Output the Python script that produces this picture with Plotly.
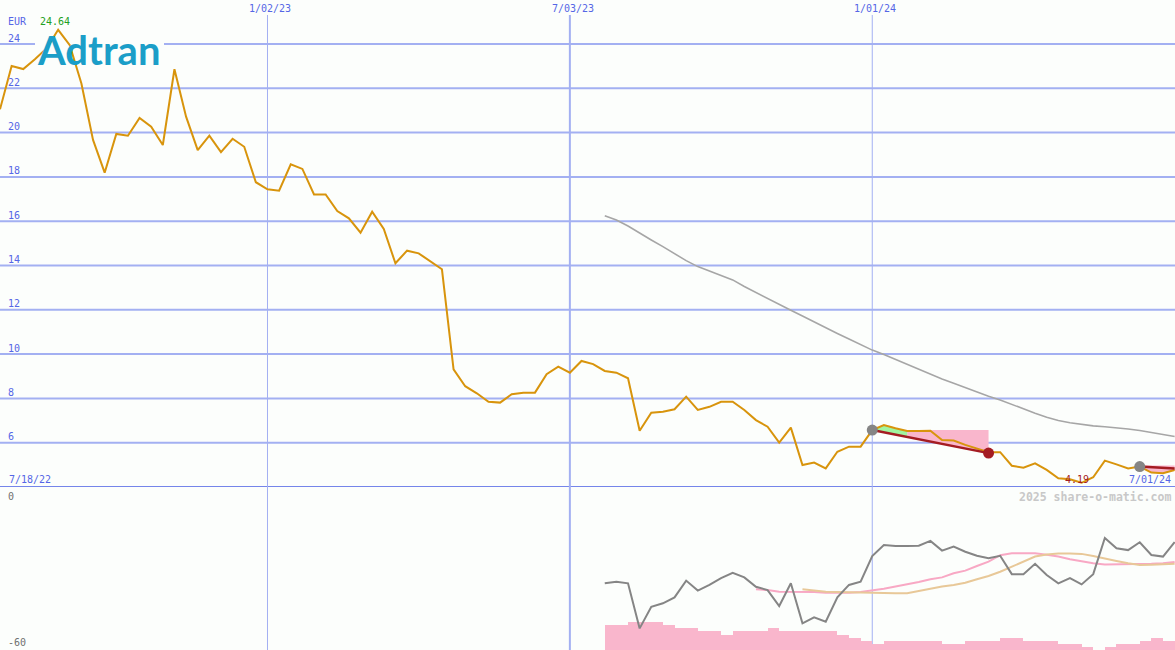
import pandas as pd
import plotly.graph_objects as go

# ---------------- data ----------------
start_date = "2022-07-25"
price = [21.05, 23.01, 22.87, 23.31, 23.80, 24.64, 23.95, 22.22, 19.67, 18.19,
         19.94, 19.86, 20.66, 20.27, 19.44, 22.86, 20.72, 19.21, 19.86, 19.12,
         19.72, 19.36, 17.76, 17.44, 17.38, 18.57, 18.36, 17.21, 17.21, 16.46,
         16.13, 15.48, 16.43, 15.65, 14.10, 14.67, 14.55, 14.17, 13.83, 9.31,
         8.55, 8.23, 7.85, 7.81, 8.19, 8.26, 8.26, 9.09, 9.43, 9.16,
         9.69, 9.55, 9.24, 9.16, 8.91, 6.54, 7.35, 7.40, 7.51, 8.08,
         7.48, 7.62, 7.85, 7.85, 7.48, 7.02, 6.72, 6.00, 6.68, 4.99,
         5.10, 4.84, 5.59, 5.82, 5.82, 6.57, 6.80, 6.65, 6.53, 6.53,
         6.54, 6.12, 6.10, 5.90, 5.75, 5.57, 5.57, 4.96, 4.87, 5.07,
         4.77, 4.39, 4.35, 4.19, 4.44, 5.19, 5.02, 4.84, 4.92, 4.65,
         4.62, 4.77]

ma_start = 52
ma_values = [16.25, 16.05, 15.78, 15.45, 15.15, 14.85, 14.52, 14.22, 13.95, 13.75,
             13.58, 13.35, 13.05, 12.78, 12.50, 12.22, 11.98, 11.72, 11.45, 11.18,
             10.93, 10.68, 10.42, 10.18, 9.98, 9.76, 9.52, 9.30, 9.08, 8.88,
             8.68, 8.48, 8.28, 8.10, 7.93, 7.72, 7.52, 7.33, 7.15, 7.00,
             6.90, 6.82, 6.76, 6.72, 6.68, 6.62, 6.55, 6.45, 6.38, 6.28]

osc_start = 52
osc_values = [-35.3, -34.7, -35.3, -52.0, -44.0, -42.7, -40.5, -34.3, -38.0, -35.9,
              -33.4, -31.4, -33.1, -36.6, -37.8, -43.7, -35.3, -50.1, -47.9, -49.5,
              -40.5, -35.9, -34.7, -25.2, -21.1, -21.5, -21.5, -21.4, -19.6, -23.2,
              -21.7, -23.6, -25.1, -26.0, -25.1, -31.9, -31.9, -28.1, -32.2, -35.3,
              -33.4, -35.7, -31.9, -18.5, -22.3, -23.0, -20.1, -24.8, -25.4, -20.0]

sig1_start = 65
sig1_values = [-37.5, -37.8, -38.4, -38.4, -38.4, -38.5, -38.8, -38.8, -38.8, -38.5,
               -38.0, -37.3, -36.5, -35.7, -34.8, -33.8, -33.1, -31.6, -30.6, -28.9,
               -27.3, -24.9, -24.2, -24.2, -24.2, -24.7, -25.4, -26.4, -27.2, -27.9,
               -28.3, -28.3, -28.1, -28.1, -28.1, -27.9, -27.4]

sig2_start = 69
sig2_values = [-37.5, -38.0, -38.4, -38.5, -38.6, -38.8, -39.0, -39.0, -39.0, -39.0,
               -38.1, -37.4, -36.5, -35.9, -35.1, -33.8, -32.6, -31.0, -29.1, -27.3,
               -25.4, -24.6, -24.3, -24.3, -24.4, -25.2, -26.2, -27.0, -27.9, -28.5,
               -28.4, -28.3, -28.1]

vol_start = 52
vol_values = [9.3, 9.3, 10.5, 10.5, 10.5, 9.3, 8.1, 8.1, 7.0, 7.0,
              5.6, 7.0, 7.0, 7.0, 8.1, 7.0, 7.0, 7.0, 7.0, 7.0,
              5.6, 4.4, 3.3, 2.2, 3.3, 3.3, 3.3, 3.3, 3.3, 2.2,
              2.2, 3.3, 3.3, 3.3, 4.4, 4.4, 3.3, 3.3, 3.3, 2.2,
              2.2, 1.1, 0.0, 1.1, 2.2, 2.2, 3.3, 4.4, 3.3]

trend1_idx = [75, 85]
trend1_end = 5.53
trend1_split = 78
trend2_idx = [98, 101]
trend2_end = 4.84
trend2_top = 4.97

y_ticks = [6, 8, 10, 12, 14, 16, 18, 20, 22, 24]
x_ticks = ["2023-01-02", "2023-07-03", "2024-01-01"]
x_tick_labels = ["1/02/23", "7/03/23", "1/01/24"]
x_tick_widths = [1, 2, 1]
max_label = "24.64"
min_label = "4.19"
min_idx = 93

# ---------------- geometry helpers ----------------
W, H = 1175, 650
dates = list(pd.date_range(start_date, periods=len(price), freq="7D"))
x_end = pd.Timestamp(start_date) + pd.Timedelta(days=W / (11.63 / 7))


def px(x):
    return x / W


def py(y):
    return 1 - y / H


def sub(start, vals):
    return dates[start:start + len(vals)]


BG = "#fcfefc"
BLUE_TXT = "#5566e6"
GRID = "#a3b0f2"
MONO = "DejaVu Sans Mono"
DRED = "#a41c22"
PINK_FILL = "#f9b6cc"

fig = go.Figure()

# ---- upper panel ----
fig.add_trace(go.Scatter(x=sub(ma_start, ma_values), y=ma_values, mode="lines",
                         line=dict(color="#a6a6a6", width=1.6), xaxis="x", yaxis="y"))

slope1 = (trend1_end - price[trend1_idx[0]]) / (trend1_idx[1] - trend1_idx[0])


def tline1(i):
    return price[trend1_idx[0]] + slope1 * (i - trend1_idx[0])


top_level = price[trend1_idx[0]]
pink1_x = [dates[trend1_split], dates[trend1_idx[1]], dates[trend1_idx[1]], dates[trend1_split]]
pink1_y = [top_level, top_level, trend1_end, tline1(trend1_split)]
fig.add_trace(go.Scatter(x=pink1_x, y=pink1_y, fill="toself", fillcolor=PINK_FILL,
                         mode="none", xaxis="x", yaxis="y"))
gi = list(range(trend1_idx[0], trend1_split + 1))
green_x = [dates[i] for i in gi] + [dates[i] for i in reversed(gi)]
green_y = [price[i] for i in gi] + [tline1(i) for i in reversed(gi)]
fig.add_trace(go.Scatter(x=green_x, y=green_y, fill="toself", fillcolor="#a0f5a0",
                         mode="none", xaxis="x", yaxis="y"))

pi2 = list(range(trend2_idx[0], trend2_idx[1] + 1))
pink2_x = [dates[i] for i in pi2] + [dates[i] for i in reversed(pi2)]
pink2_y = [price[i] for i in pi2] + [trend2_top for _ in pi2]
fig.add_trace(go.Scatter(x=pink2_x, y=pink2_y, fill="toself", fillcolor=PINK_FILL,
                         mode="none", xaxis="x", yaxis="y"))

fig.add_trace(go.Scatter(x=dates, y=price, mode="lines",
                         line=dict(color="#d8940c", width=2), xaxis="x", yaxis="y"))

fig.add_trace(go.Scatter(x=[dates[trend1_idx[0]], dates[trend1_idx[1]]],
                         y=[price[trend1_idx[0]], trend1_end], mode="lines",
                         line=dict(color=DRED, width=2.5), xaxis="x", yaxis="y"))
fig.add_trace(go.Scatter(x=[dates[trend2_idx[0]], dates[trend2_idx[1]]],
                         y=[price[trend2_idx[0]], trend2_end], mode="lines",
                         line=dict(color=DRED, width=2.5), xaxis="x", yaxis="y"))
fig.add_trace(go.Scatter(x=[dates[trend1_idx[0]], dates[trend2_idx[0]]],
                         y=[price[trend1_idx[0]], price[trend2_idx[0]]], mode="markers",
                         marker=dict(color="#858585", size=11), xaxis="x", yaxis="y"))
fig.add_trace(go.Scatter(x=[dates[trend1_idx[1]]], y=[trend1_end], mode="markers",
                         marker=dict(color=DRED, size=11), xaxis="x", yaxis="y"))

# ---- lower panel ----
fig.add_trace(go.Bar(x=sub(vol_start, vol_values), y=vol_values, base=-60,
                     offset=0, width=7 * 86400000,
                     marker=dict(color=PINK_FILL, line=dict(width=0)),
                     xaxis="x2", yaxis="y2"))
fig.add_trace(go.Scatter(x=sub(sig1_start, sig1_values), y=sig1_values, mode="lines",
                         line=dict(color="#f8a8c4", width=2), xaxis="x2", yaxis="y2"))
fig.add_trace(go.Scatter(x=sub(sig2_start, sig2_values), y=sig2_values, mode="lines",
                         line=dict(color="#e8c898", width=2), xaxis="x2", yaxis="y2"))
fig.add_trace(go.Scatter(x=sub(osc_start, osc_values), y=osc_values, mode="lines",
                         line=dict(color="#858585", width=2), xaxis="x2", yaxis="y2"))

# ---------------- shapes ----------------
shapes = []
for v in y_ticks:
    shapes.append(dict(type="line", xref="paper", yref="y", x0=0, x1=1, y0=v, y1=v,
                       line=dict(color=GRID, width=2), layer="below"))
shapes.append(dict(type="line", xref="paper", yref="y", x0=0, x1=1, y0=4, y1=4,
                   line=dict(color="#7585ea", width=2), layer="below"))
for d, w in zip(x_ticks, x_tick_widths):
    shapes.append(dict(type="line", xref="x", yref="paper", x0=d, x1=d, y0=0, y1=py(15),
                       line=dict(color=GRID, width=w), layer="below"))
shapes.append(dict(type="rect", xref="paper", yref="paper", x0=px(35), x1=px(164),
                   y0=py(40), y1=py(48), fillcolor=BG, line=dict(width=0), layer="below"))

# ---------------- annotations ----------------
ann = []


def txt(text, x, y, color, xanchor="left", size=10, xref="paper", xshift=0, **kw):
    ann.append(dict(text=text, x=x, y=py(y), xref=xref, yref="paper", xanchor=xanchor,
                    yanchor="middle", showarrow=False, xshift=xshift,
                    font=dict(family=MONO, size=size, color=color, **kw)))


for v in y_ticks:
    ann.append(dict(text=str(v), x=px(6), y=v, xref="paper", yref="y", xanchor="left",
                    yanchor="middle", yshift=6, showarrow=False,
                    font=dict(family=MONO, size=10, color=BLUE_TXT)))
txt("EUR", px(6), 21.5, BLUE_TXT)
txt(max_label, px(37.5), 21.5, "#22a022")
for d, lab in zip(x_ticks, x_tick_labels):
    txt(lab, d, 9, BLUE_TXT, xanchor="center", xref="x", xshift=3)
txt("7/18/22", px(7), 479, BLUE_TXT)
txt("7/01/24", px(1173), 479, BLUE_TXT, xanchor="right")
txt(min_label, dates[min_idx], 479, DRED, xanchor="center", xref="x", xshift=-5)
txt("0", px(6), 496, "#707070")
txt("-60", px(6), 642, "#707070")
txt("2025 share-o-matic.com", px(1173), 497, "#c8c8c8", xanchor="right", size=11.5, weight="bold")
ann.append(dict(text="Adtran", x=px(99), y=py(50), xref="paper", yref="paper",
                xanchor="center", yanchor="middle", showarrow=False, height=32,
                font=dict(family="Lato", size=40, color="#1b9ec8", weight="bold")))

axis_common = dict(showgrid=False, zeroline=False, showticklabels=False, ticks="",
                   showline=False, fixedrange=True)
fig.update_layout(
    width=W, height=H, margin=dict(l=0, r=0, t=0, b=0),
    paper_bgcolor=BG, plot_bgcolor="rgba(0,0,0,0)",
    showlegend=False, hovermode=False, bargap=0,
    xaxis=dict(range=[dates[0], x_end], anchor="y", domain=[0, 1], **axis_common),
    yaxis=dict(range=[4, 4 + 487 / 22.15], domain=[1 - 487 / H, 1], anchor="x", **axis_common),
    xaxis2=dict(range=[dates[0], x_end], anchor="y2", domain=[0, 1], matches="x", **axis_common),
    yaxis2=dict(range=[-60, 0], domain=[0, 162 / H], anchor="x2", **axis_common),
    shapes=shapes, annotations=ann,
)

fig.write_html("out.html", config={"displayModeBar": False},
               post_script="document.body.style.margin='0';document.body.style.padding='0';"
                           "document.body.style.background='" + BG + "';")
